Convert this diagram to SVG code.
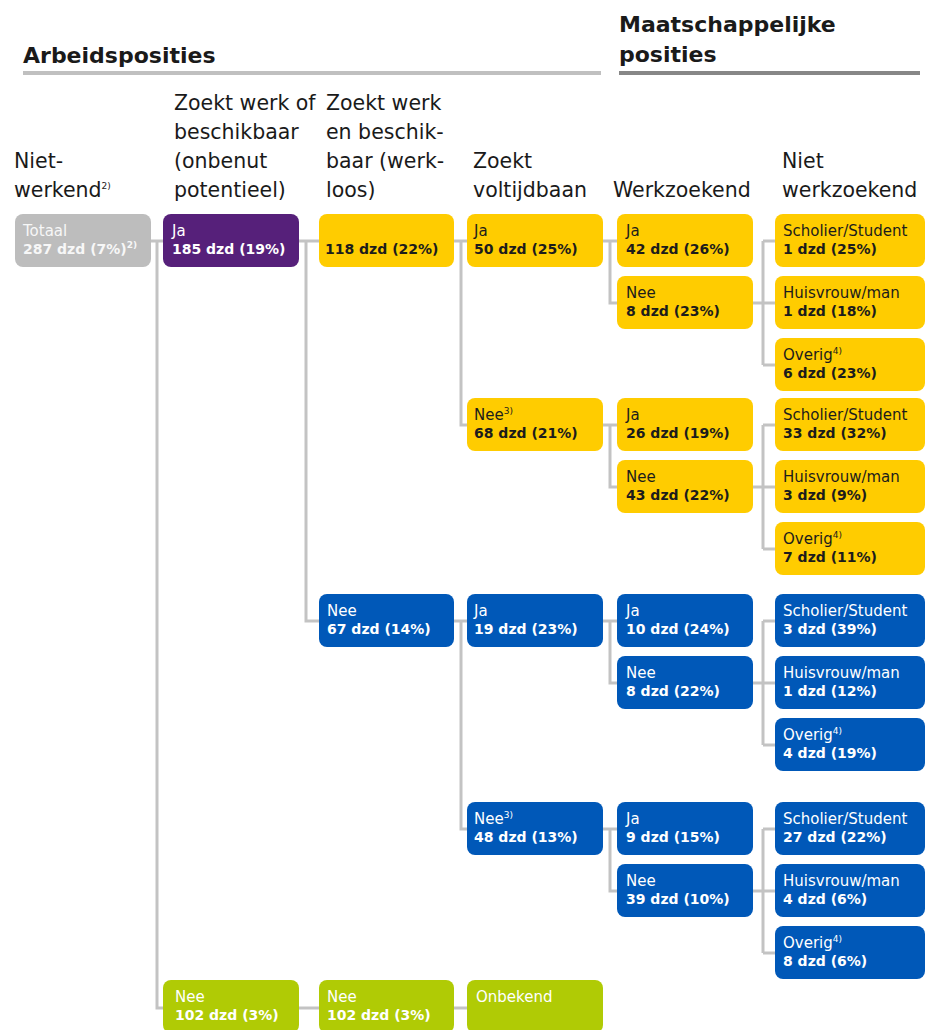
<svg xmlns="http://www.w3.org/2000/svg" width="933" height="1030" viewBox="0 0 933 1030">
<style>
.bg{fill:#ffffff}
.h1{font-family:"DejaVu Sans",sans-serif;font-weight:bold;font-size:22px;fill:#1a1a1a}
.hc{font-family:"DejaVu Sans",sans-serif;font-size:20.5px;fill:#1a1a1a}
.lb{font-family:"DejaVu Sans",sans-serif;font-size:15px}
.vl{font-family:"DejaVu Sans",sans-serif;font-size:14px;font-weight:bold}
.sup{font-size:9px}
.gray rect{fill:#bdbdbd}.gray text{fill:#f7f7f7}
.purple rect{fill:#56207a}.purple text{fill:#ffffff}
.yellow rect{fill:#ffcc00}.yellow text{fill:#1c1c1c}
.blue rect{fill:#0058b8}.blue text{fill:#ffffff}
.green rect{fill:#b0cb05}.green text{fill:#ffffff}
.conn path{fill:none;stroke:#c3c3c3;stroke-width:3}
</style>
<rect class="bg" x="0" y="0" width="933" height="1030"/>

<g id="headers">
<text class="h1" x="23" y="63">Arbeidsposities</text>
<rect x="23" y="71" width="578" height="4" fill="#c0c0c0"/>
<text class="h1" x="619" y="32">Maatschappelijke</text>
<text class="h1" x="619" y="62">posities</text>
<rect x="619" y="71" width="301" height="4" fill="#878787"/>
<text class="hc" x="14" y="168">Niet-</text>
<text class="hc" x="14" y="197">werkend<tspan class="sup" font-size="11" dy="-8">2)</tspan></text>
<text class="hc" x="174" y="110">Zoekt werk of</text>
<text class="hc" x="174" y="139">beschikbaar</text>
<text class="hc" x="174" y="168">(onbenut</text>
<text class="hc" x="174" y="197">potentieel)</text>
<text class="hc" x="326" y="110">Zoekt werk</text>
<text class="hc" x="326" y="139">en beschik-</text>
<text class="hc" x="326" y="168">baar (werk-</text>
<text class="hc" x="326" y="197">loos)</text>
<text class="hc" x="473" y="168">Zoekt</text>
<text class="hc" x="473" y="197">voltijdbaan</text>
<text class="hc" x="613" y="197">Werkzoekend</text>
<text class="hc" x="782" y="168">Niet</text>
<text class="hc" x="782" y="197">werkzoekend</text>
</g>

<g id="connectors" class="conn">
<path d="M151,241 H163 M157,241 V1008 H163"/>
<path d="M299,241 H319 M306,241 V621 H319"/>
<path d="M454,241 H467 M461,241 V425 H467"/>
<path d="M603,241 H617 M610,241 V303 H617"/>
<path d="M753,303 H763 M763,241 V365 M763,241 H775 M763,303 H775 M763,365 H775"/>
<path d="M603,425 H617 M610,425 V487 H617"/>
<path d="M753,487 H763 M763,425 V549 M763,425 H775 M763,487 H775 M763,549 H775"/>
<path d="M454,621 H467 M461,621 V829 H467"/>
<path d="M603,621 H617 M610,621 V683 H617"/>
<path d="M753,683 H763 M763,621 V745 M763,621 H775 M763,683 H775 M763,745 H775"/>
<path d="M603,829 H617 M610,829 V891 H617"/>
<path d="M753,891 H763 M763,829 V953 M763,829 H775 M763,891 H775 M763,953 H775"/>
<path d="M299,1008 H319 M454,1008 H467"/>
</g>

<g id="n-totaal" class="gray"><rect x="15" y="214" width="136" height="53" rx="8"/><text class="lb" x="23" y="236">Totaal</text><text class="vl" x="23" y="254">287 dzd (7%)<tspan class="sup" dy="-6">2)</tspan></text></g>
<g id="n-ja-onbenut" class="purple"><rect x="163" y="214" width="136" height="53" rx="8"/><text class="lb" x="172" y="236">Ja</text><text class="vl" x="172" y="254">185 dzd (19%)</text></g>
<g id="n-werkloos" class="yellow"><rect x="319" y="214" width="135" height="53" rx="8"/><text class="vl" x="325" y="254">118 dzd (22%)</text></g>

<g id="n-y-ja50" class="yellow"><rect x="467" y="214" width="136" height="53" rx="8"/><text class="lb" x="474" y="236">Ja</text><text class="vl" x="474" y="254">50 dzd (25%)</text></g>
<g id="n-y-ja42" class="yellow"><rect x="617" y="214" width="136" height="53" rx="8"/><text class="lb" x="626" y="236">Ja</text><text class="vl" x="626" y="254">42 dzd (26%)</text></g>
<g id="n-y-nee8" class="yellow"><rect x="617" y="276" width="136" height="53" rx="8"/><text class="lb" x="626" y="298">Nee</text><text class="vl" x="626" y="316">8 dzd (23%)</text></g>
<g id="n-y-sch1" class="yellow"><rect x="775" y="214" width="150" height="53" rx="8"/><text class="lb" x="783" y="236">Scholier/Student</text><text class="vl" x="783" y="254">1 dzd (25%)</text></g>
<g id="n-y-hv1" class="yellow"><rect x="775" y="276" width="150" height="53" rx="8"/><text class="lb" x="783" y="298">Huisvrouw/man</text><text class="vl" x="783" y="316">1 dzd (18%)</text></g>
<g id="n-y-ov1" class="yellow"><rect x="775" y="338" width="150" height="53" rx="8"/><text class="lb" x="783" y="360">Overig<tspan class="sup" dy="-6">4)</tspan></text><text class="vl" x="783" y="378">6 dzd (23%)</text></g>

<g id="n-y-nee68" class="yellow"><rect x="467" y="398" width="136" height="53" rx="8"/><text class="lb" x="474" y="420">Nee<tspan class="sup" dy="-6">3)</tspan></text><text class="vl" x="474" y="438">68 dzd (21%)</text></g>
<g id="n-y-ja26" class="yellow"><rect x="617" y="398" width="136" height="53" rx="8"/><text class="lb" x="626" y="420">Ja</text><text class="vl" x="626" y="438">26 dzd (19%)</text></g>
<g id="n-y-nee43" class="yellow"><rect x="617" y="460" width="136" height="53" rx="8"/><text class="lb" x="626" y="482">Nee</text><text class="vl" x="626" y="500">43 dzd (22%)</text></g>
<g id="n-y-sch2" class="yellow"><rect x="775" y="398" width="150" height="53" rx="8"/><text class="lb" x="783" y="420">Scholier/Student</text><text class="vl" x="783" y="438">33 dzd (32%)</text></g>
<g id="n-y-hv2" class="yellow"><rect x="775" y="460" width="150" height="53" rx="8"/><text class="lb" x="783" y="482">Huisvrouw/man</text><text class="vl" x="783" y="500">3 dzd (9%)</text></g>
<g id="n-y-ov2" class="yellow"><rect x="775" y="522" width="150" height="53" rx="8"/><text class="lb" x="783" y="544">Overig<tspan class="sup" dy="-6">4)</tspan></text><text class="vl" x="783" y="562">7 dzd (11%)</text></g>

<g id="n-b-nee67" class="blue"><rect x="319" y="594" width="135" height="53" rx="8"/><text class="lb" x="327" y="616">Nee</text><text class="vl" x="327" y="634">67 dzd (14%)</text></g>
<g id="n-b-ja19" class="blue"><rect x="467" y="594" width="136" height="53" rx="8"/><text class="lb" x="474" y="616">Ja</text><text class="vl" x="474" y="634">19 dzd (23%)</text></g>
<g id="n-b-ja10" class="blue"><rect x="617" y="594" width="136" height="53" rx="8"/><text class="lb" x="626" y="616">Ja</text><text class="vl" x="626" y="634">10 dzd (24%)</text></g>
<g id="n-b-nee8" class="blue"><rect x="617" y="656" width="136" height="53" rx="8"/><text class="lb" x="626" y="678">Nee</text><text class="vl" x="626" y="696">8 dzd (22%)</text></g>
<g id="n-b-sch1" class="blue"><rect x="775" y="594" width="150" height="53" rx="8"/><text class="lb" x="783" y="616">Scholier/Student</text><text class="vl" x="783" y="634">3 dzd (39%)</text></g>
<g id="n-b-hv1" class="blue"><rect x="775" y="656" width="150" height="53" rx="8"/><text class="lb" x="783" y="678">Huisvrouw/man</text><text class="vl" x="783" y="696">1 dzd (12%)</text></g>
<g id="n-b-ov1" class="blue"><rect x="775" y="718" width="150" height="53" rx="8"/><text class="lb" x="783" y="740">Overig<tspan class="sup" dy="-6">4)</tspan></text><text class="vl" x="783" y="758">4 dzd (19%)</text></g>

<g id="n-b-nee48" class="blue"><rect x="467" y="802" width="136" height="53" rx="8"/><text class="lb" x="474" y="824">Nee<tspan class="sup" dy="-6">3)</tspan></text><text class="vl" x="474" y="842">48 dzd (13%)</text></g>
<g id="n-b-ja9" class="blue"><rect x="617" y="802" width="136" height="53" rx="8"/><text class="lb" x="626" y="824">Ja</text><text class="vl" x="626" y="842">9 dzd (15%)</text></g>
<g id="n-b-nee39" class="blue"><rect x="617" y="864" width="136" height="53" rx="8"/><text class="lb" x="626" y="886">Nee</text><text class="vl" x="626" y="904">39 dzd (10%)</text></g>
<g id="n-b-sch2" class="blue"><rect x="775" y="802" width="150" height="53" rx="8"/><text class="lb" x="783" y="824">Scholier/Student</text><text class="vl" x="783" y="842">27 dzd (22%)</text></g>
<g id="n-b-hv2" class="blue"><rect x="775" y="864" width="150" height="53" rx="8"/><text class="lb" x="783" y="886">Huisvrouw/man</text><text class="vl" x="783" y="904">4 dzd (6%)</text></g>
<g id="n-b-ov2" class="blue"><rect x="775" y="926" width="150" height="53" rx="8"/><text class="lb" x="783" y="948">Overig<tspan class="sup" dy="-6">4)</tspan></text><text class="vl" x="783" y="966">8 dzd (6%)</text></g>

<g id="n-g-nee1" class="green"><rect x="163" y="980" width="136" height="53" rx="8"/><text class="lb" x="175" y="1002">Nee</text><text class="vl" x="175" y="1020">102 dzd (3%)</text></g>
<g id="n-g-nee2" class="green"><rect x="319" y="980" width="135" height="53" rx="8"/><text class="lb" x="327" y="1002">Nee</text><text class="vl" x="327" y="1020">102 dzd (3%)</text></g>
<g id="n-g-onb" class="green"><rect x="467" y="980" width="136" height="53" rx="8"/><text class="lb" x="476" y="1002">Onbekend</text></g>
</svg>
